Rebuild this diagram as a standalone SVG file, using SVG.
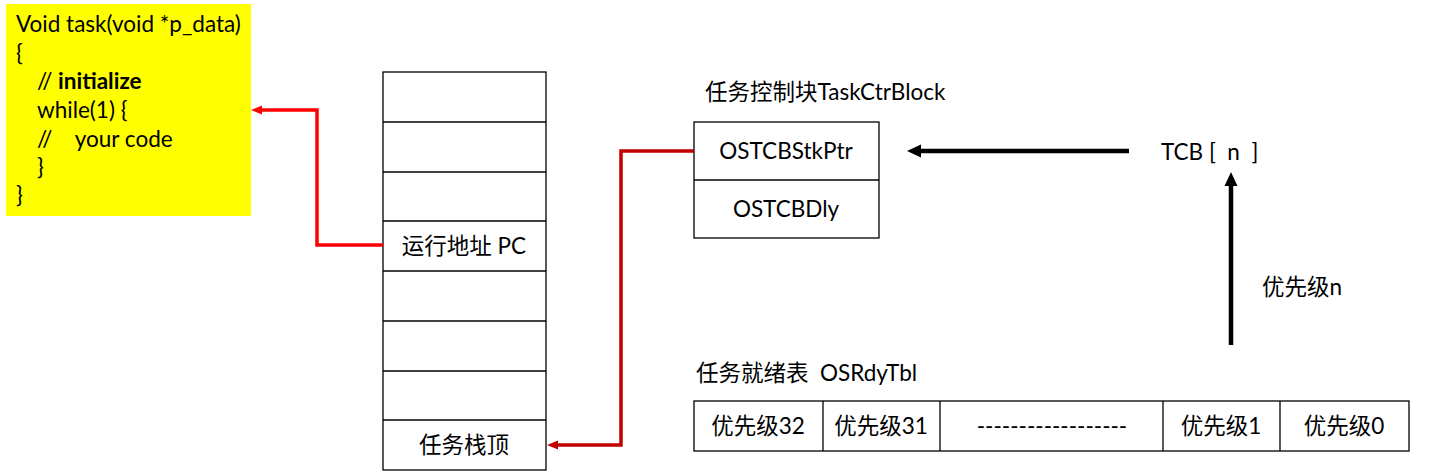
<svg xmlns="http://www.w3.org/2000/svg" width="1429" height="473" viewBox="0 0 1429 473">
<style>
.lat{font-family:"Lato","Open Sans","Liberation Sans",sans-serif;font-size:22.5px;fill:#000}
.cjk{font-family:"Lato","Noto Sans CJK SC",sans-serif;font-size:22.5px;fill:#000}
.box{fill:#fff;stroke:#000;stroke-width:1.3}
.red{fill:none;stroke:#FF0000;stroke-width:3.5}
.dred{fill:none;stroke:#C00000;stroke-width:3.5}
.blk{fill:none;stroke:#000;stroke-width:4.5}
</style>
<defs>
<marker id="ar" markerWidth="12" markerHeight="12" refX="0" refY="5" orient="auto" markerUnits="userSpaceOnUse" viewBox="0 0 12 10"><path d="M0,0.5 L11,5 L0,9.5 Z" fill="#FF0000"/></marker>
<marker id="adr" markerWidth="12" markerHeight="12" refX="0" refY="5" orient="auto" markerUnits="userSpaceOnUse" viewBox="0 0 12 10"><path d="M0,0.5 L11,5 L0,9.5 Z" fill="#C00000"/></marker>
<marker id="ab" markerWidth="14" markerHeight="14" refX="0" refY="7" orient="auto" markerUnits="userSpaceOnUse" viewBox="0 0 14 14"><path d="M0,0.5 L14,7 L0,13.5 Z" fill="#000"/></marker>
</defs>

<g id="code">
<rect x="6" y="4" width="245" height="212" fill="#FFFF00"/>
<text class="lat" x="16" y="32">Void task(void *p_data)</text>
<text class="lat" x="16" y="61">{</text>
<text class="lat" x="37" y="89"><tspan>// </tspan><tspan font-weight="bold">initialize</tspan></text>
<text class="lat" x="37" y="118">while(1) {</text>
<text class="lat" x="37" y="147" xml:space="preserve">//    your code</text>
<text class="lat" x="37" y="175">}</text>
<text class="lat" x="16" y="203">}</text>
</g>

<g id="stack">
<rect class="box" x="383" y="72" width="163" height="398"/>
<line class="box" x1="383" y1="122" x2="546" y2="122"/>
<line class="box" x1="383" y1="172" x2="546" y2="172"/>
<line class="box" x1="383" y1="221" x2="546" y2="221"/>
<line class="box" x1="383" y1="271" x2="546" y2="271"/>
<line class="box" x1="383" y1="321" x2="546" y2="321"/>
<line class="box" x1="383" y1="371" x2="546" y2="371"/>
<line class="box" x1="383" y1="420" x2="546" y2="420"/>
<text class="cjk" x="464" y="254" text-anchor="middle">运行地址 PC</text>
<text class="cjk" x="464" y="453" text-anchor="middle">任务栈顶</text>
</g>

<g id="tcb">
<text class="cjk" x="705" y="100">任务控制块TaskCtrBlock</text>
<rect class="box" x="694" y="122" width="185" height="116"/>
<line class="box" x1="694" y1="180" x2="879" y2="180"/>
<text class="lat" x="786" y="159" text-anchor="middle">OSTCBStkPtr</text>
<text class="lat" x="786" y="217" text-anchor="middle">OSTCBDly</text>
</g>

<g id="tcbn">
<text class="lat" x="1161" y="160" xml:space="preserve">TCB [  n  ]</text>
</g>

<g id="prio">
<text class="cjk" x="1262" y="295">优先级n</text>
</g>

<g id="rdytbl">
<text class="cjk" x="696" y="381" xml:space="preserve">任务就绪表  OSRdyTbl</text>
<rect class="box" x="694" y="401" width="715" height="50"/>
<line class="box" x1="823" y1="401" x2="823" y2="451"/>
<line class="box" x1="940" y1="401" x2="940" y2="451"/>
<line class="box" x1="1163" y1="401" x2="1163" y2="451"/>
<line class="box" x1="1280" y1="401" x2="1280" y2="451"/>
<text class="cjk" x="758" y="434" text-anchor="middle">优先级32</text>
<text class="cjk" x="881" y="434" text-anchor="middle">优先级31</text>
<text class="lat" x="1052" y="434" text-anchor="middle">------------------</text>
<text class="cjk" x="1221" y="434" text-anchor="middle">优先级1</text>
<text class="cjk" x="1344" y="434" text-anchor="middle">优先级0</text>
</g>

<g id="connectors">
<polyline class="red" points="383,245 317,245 317,110 262,110" marker-end="url(#ar)"/>
<polyline class="dred" points="694,151 621,151 621,445 558,445" marker-end="url(#adr)"/>
<line class="blk" x1="1129" y1="151" x2="921" y2="151" marker-end="url(#ab)"/>
<line class="blk" x1="1231" y1="345" x2="1231" y2="186" marker-end="url(#ab)"/>
</g>
</svg>
